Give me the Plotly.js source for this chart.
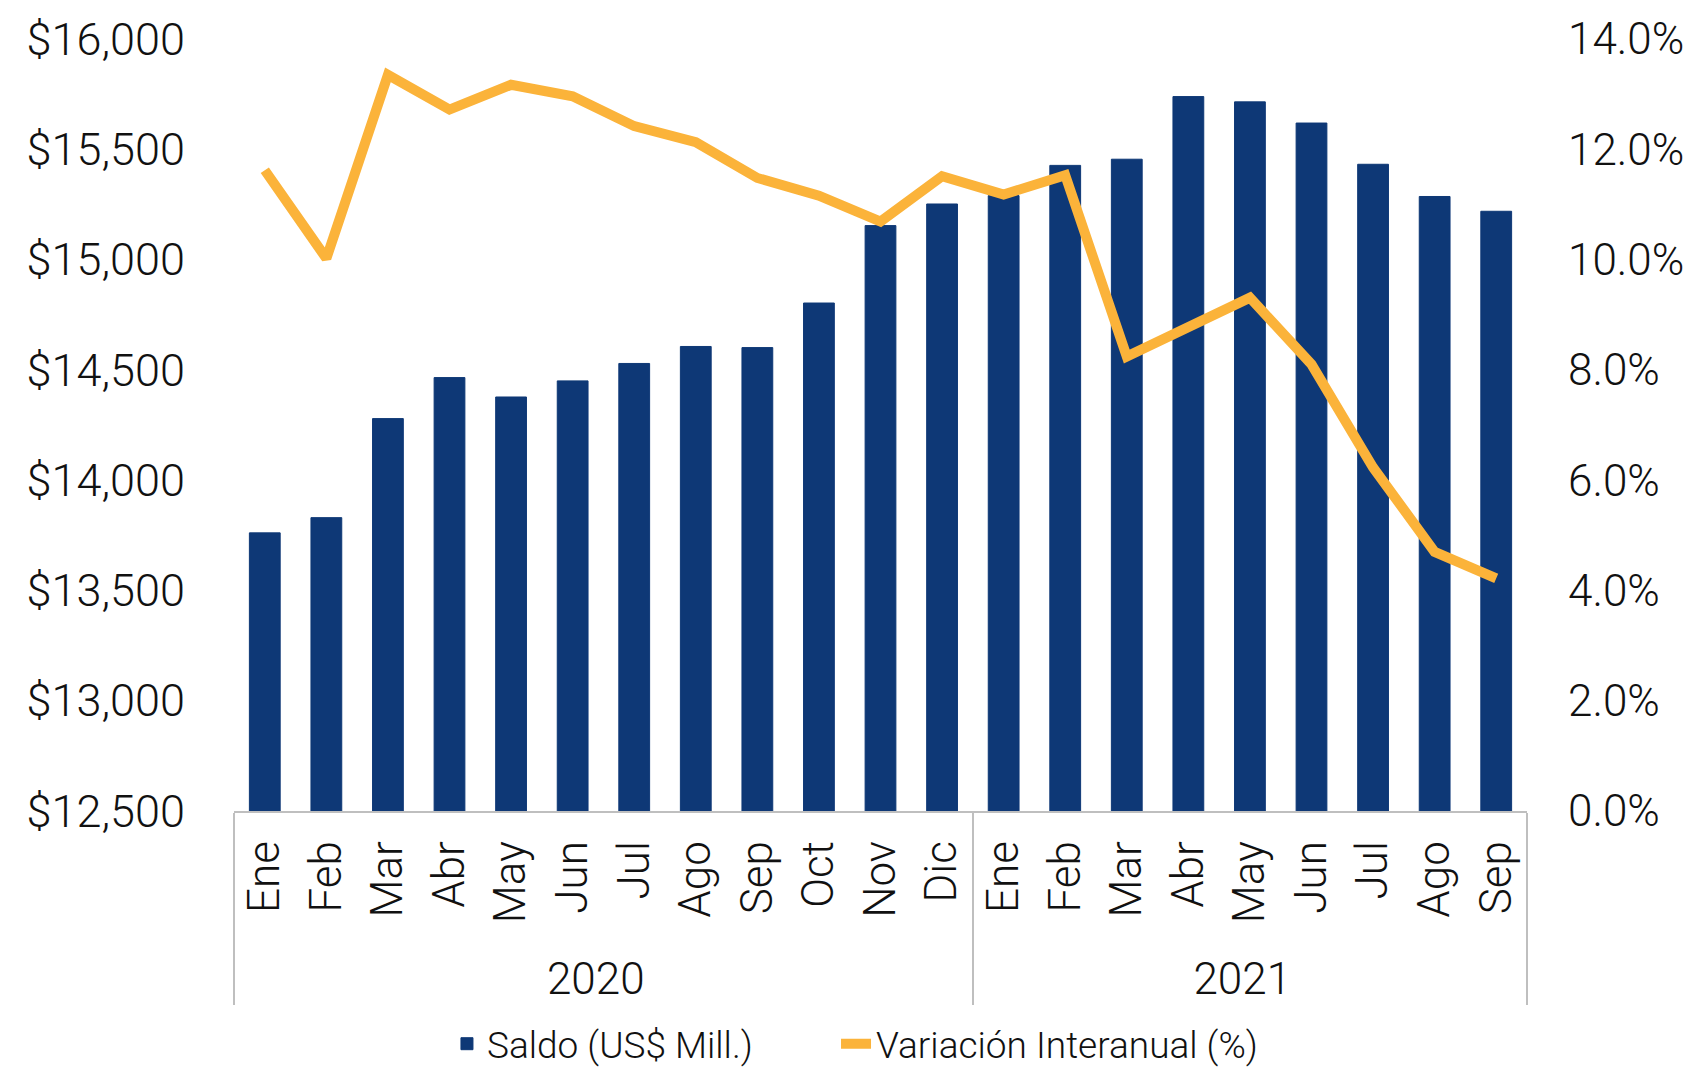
<!DOCTYPE html>
<html>
<head>
<meta charset="utf-8">
<script src="https://cdn.plot.ly/plotly-3.0.1.min.js"></script>
<style>html,body{margin:0;padding:0;background:#fff;}#chart{width:1691px;height:1072px;}</style>
</head>
<body>
<div id="chart"></div>
<script>
const years = ['2020','2020','2020','2020','2020','2020','2020','2020','2020','2020','2020','2020',
               '2021','2021','2021','2021','2021','2021','2021','2021','2021'];
const months = ['Ene','Feb','Mar','Abr','May','Jun','Jul','Ago','Sep','Oct','Nov','Dic',
                'Ene','Feb','Mar','Abr','May','Jun','Jul','Ago','Sep'];
const saldo = [13761, 13830, 14279, 14465, 14377, 14450, 14529, 14606, 14601, 14803, 15154, 15252,
               15290, 15427, 15455, 15739, 15715, 15619, 15432, 15286, 15219];
const variacion = [11.62, 10.02, 13.35, 12.72, 13.17, 12.96, 12.42, 12.13, 11.48, 11.16, 10.69, 11.51,
                   11.18, 11.53, 8.24, 8.79, 9.31, 8.10, 6.23, 4.70, 4.22];

const FONT = 'Roboto, "Liberation Sans", Arial, sans-serif';
const LEGEND_FONT = {family: FONT, size: 37, color: '#111111', weight: 300};

const traces = [
  {
    type: 'bar',
    name: 'Saldo (US$ Mill.)',
    x: [years, months],
    y: saldo,
    marker: {color: '#0E3876', line: {color: '#0E3876', width: 1}},
    yaxis: 'y',
    legend: 'legend'
  },
  {
    type: 'scatter',
    mode: 'lines',
    name: 'Variación Interanual (%)',
    x: [years, months],
    y: variacion,
    line: {color: '#FBB33A', width: 10},
    yaxis: 'y2',
    legend: 'legend2'
  }
];

const layout = {
  width: 1691,
  height: 1072,
  autosize: false,
  paper_bgcolor: '#ffffff',
  plot_bgcolor: '#ffffff',
  margin: {l: 234, r: 164, t: 39, b: 261, autoexpand: false},
  font: {family: FONT, color: '#111111', size: 44, weight: 300},
  bargap: 0.5,
  showlegend: true,
  legend: {
    orientation: 'h',
    x: 0.1647, xanchor: 'left',
    y: -0.302, yanchor: 'middle',
    bgcolor: 'rgba(0,0,0,0)',
    font: LEGEND_FONT
  },
  legend2: {
    orientation: 'h',
    x: 0.4656, xanchor: 'left',
    y: -0.302, yanchor: 'middle',
    bgcolor: 'rgba(0,0,0,0)',
    font: LEGEND_FONT
  },
  xaxis: {
    type: 'multicategory',
    automargin: false,
    showline: true,
    linecolor: '#bfbfbf',
    linewidth: 1.5,
    showgrid: false,
    ticks: '',
    tickangle: -90,
    ticklabelstandoff: 11,
    tickfont: {family: FONT, size: 44, color: '#111111', weight: 300},
    showdividers: true,
    dividercolor: '#bfbfbf',
    dividerwidth: 1.5,
    zeroline: false
  },
  yaxis: {
    automargin: false,
    range: [12500, 16000],
    dtick: 500,
    tick0: 12500,
    tickprefix: '$',
    tickformat: ',d',
    showgrid: false,
    zeroline: false,
    showline: false,
    ticks: '',
    ticklabelstandoff: 48,
    tickfont: {family: FONT, size: 45, color: '#111111', weight: 300}
  },
  yaxis2: {
    automargin: false,
    overlaying: 'y',
    side: 'right',
    range: [0, 14],
    dtick: 2,
    tick0: 0,
    tickformat: '.1f',
    ticksuffix: '%',
    showgrid: false,
    zeroline: false,
    showline: false,
    ticks: '',
    ticklabelstandoff: 40,
    tickfont: {family: FONT, size: 44, color: '#111111', weight: 300}
  }
};

Plotly.newPlot('chart', traces, layout, {displayModeBar: false, staticPlot: true});
</script>
</body>
</html>
